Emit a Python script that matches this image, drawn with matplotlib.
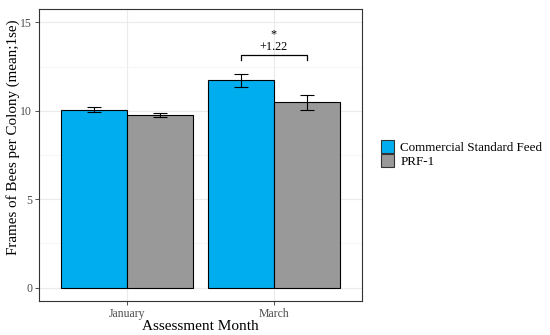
import numpy as np
import matplotlib.pyplot as plt
from matplotlib.patches import Patch
from matplotlib.ticker import MultipleLocator

months = ["January", "March"]
series = ["Commercial Standard Feed", "PRF-1"]
means = {"Commercial Standard Feed": [10.07, 11.72], "PRF-1": [9.75, 10.47]}
lo = {"Commercial Standard Feed": [9.93, 11.34], "PRF-1": [9.64, 10.04]}
hi = {"Commercial Standard Feed": [10.21, 12.06], "PRF-1": [9.87, 10.91]}
colors = {"Commercial Standard Feed": "#00AEEF", "PRF-1": "#999999"}
diff_label = "+1.22"
bracket_y = 13.16

plt.rcParams['font.family'] = ['Liberation Serif', 'DejaVu Serif']

fig = plt.figure(figsize=(5.5, 3.35), dpi=100)
ax = fig.add_axes([39/550, 34/335, 323/550, 292/335])

x = np.arange(1, len(months) + 1)
w = 0.45
for i, s in enumerate(series):
    pos = x + (i - 0.5) * w
    ax.bar(pos, means[s], width=w, color=colors[s], edgecolor="black",
           linewidth=0.8, zorder=3)
    m = np.array(means[s])
    yerr = [m - np.array(lo[s]), np.array(hi[s]) - m]
    ax.errorbar(pos, m, yerr=yerr, fmt="none", ecolor="black", elinewidth=0.8,
                capsize=5, capthick=0.8, zorder=4)

# significance bracket for March
bx0, bx1 = x[1] - w / 2, x[1] + w / 2
ax.plot([bx0, bx0, bx1, bx1], [bracket_y - 0.27, bracket_y, bracket_y, bracket_y - 0.27],
        color="black", linewidth=0.9, zorder=4)
ax.text(x[1], bracket_y + 0.12, "*\n" + diff_label, ha="center", va="bottom",
        fontsize=8.8, linespacing=1.0, multialignment="center")

ax.set_xlim(0.4, 2.6)
ax.set_ylim(-0.75, 15.75)
ax.set_xticks(x)
ax.set_xticklabels(months)
ax.yaxis.set_major_locator(MultipleLocator(5))
ax.yaxis.set_minor_locator(MultipleLocator(2.5))
ax.grid(which="major", color="#EBEBEB", linewidth=0.8, zorder=0)
ax.grid(which="minor", axis="y", color="#F2F2F2", linewidth=0.5, zorder=0)
ax.tick_params(which="major", colors="#333333", labelcolor="#4D4D4D",
               labelsize=8.5, length=3, width=0.6, pad=2)
ax.tick_params(which="minor", length=0)
for sp in ax.spines.values():
    sp.set_color("#333333")
    sp.set_linewidth(0.8)
ax.set_axisbelow(True)

ax.set_xlabel("Assessment Month", fontsize=11, labelpad=0)
ax.set_ylabel("Frames of Bees per Colony (mean;1se)", fontsize=10.8)
ax.yaxis.set_label_coords(-0.06, 0.56)

handles = [Patch(facecolor=colors[s], edgecolor="#333333", linewidth=0.8) for s in series]
fig.legend(handles, series, loc="center left", bbox_to_anchor=(374/550, 1 - 154/335),
           frameon=False, fontsize=9.4, handlelength=1.05, handleheight=1.1,
           labelspacing=0.0, handletextpad=0.45, borderpad=0)

fig.savefig("out.png", dpi=100)
